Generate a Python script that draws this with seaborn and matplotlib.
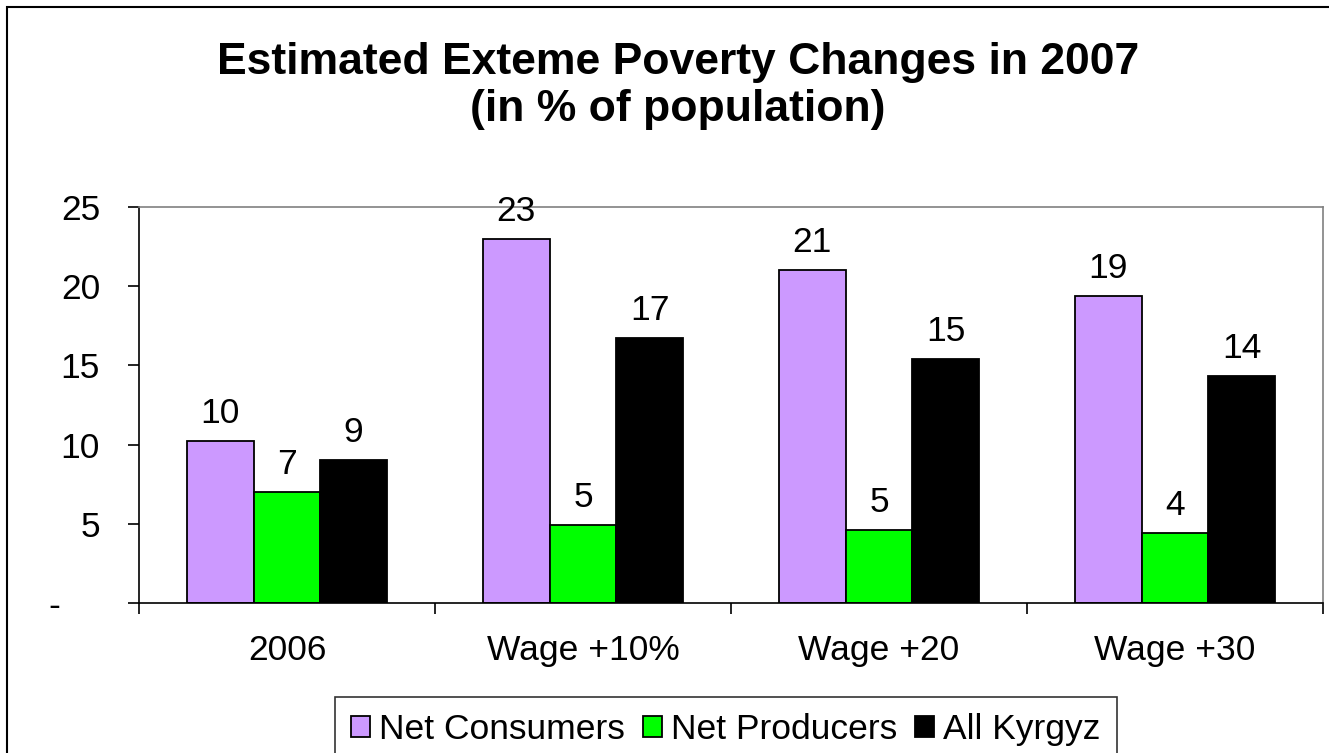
import seaborn as sns
import pandas as pd
import matplotlib.pyplot as plt
from matplotlib.patches import Rectangle
from matplotlib.transforms import ScaledTranslation

scenarios = ["2006", "Wage +10%", "Wage +20", "Wage +30"]
series = ["Net Consumers", "Net Producers", "All Kyrgyz"]
net_consumers = [10.2, 23.0, 21.0, 19.4]
net_producers = [7.0, 4.9, 4.6, 4.4]
all_kyrgyz = [9.0, 16.7, 15.4, 14.3]

rows = []
for name, vals in zip(series, [net_consumers, net_producers, all_kyrgyz]):
    for sc, v in zip(scenarios, vals):
        rows.append({"scenario": sc, "group": name, "value": v})
data = pd.DataFrame(rows)

sns.set_style("white")
plt.rcParams["font.family"] = ["Liberation Sans", "DejaVu Sans"]
plt.rcParams["text.color"] = "black"
plt.rcParams["xtick.color"] = "black"
plt.rcParams["ytick.color"] = "black"

palette = ["#CC99FF", "#00FF00", "#000000"]
FS = 25.5

fig = plt.figure(figsize=(13.29, 7.53), dpi=100)
ax = fig.add_axes([0.1046, 0.1992, 0.8909, 0.5259])

sns.barplot(
    data=data, x="scenario", y="value", hue="group",
    order=scenarios, hue_order=series, palette=palette,
    width=0.675, saturation=1, edgecolor="black", linewidth=1.3,
    ax=ax, legend=True,
)

for c in ax.containers:
    ax.bar_label(c, fmt="%.0f", padding=8, fontsize=FS, color="black")

ax.set_xlim(-0.5, 3.5)
ax.set_ylim(0, 25)
ax.set_yticks([0, 5, 10, 15, 20, 25])
ax.set_yticklabels(["-", "5", "10", "15", "20", "25"])
ax.set_xlabel("")
ax.set_ylabel("")

# ticks at category boundaries on x
ax.set_xticks([-0.5, 0.5, 1.5, 2.5, 3.5], minor=True)
ax.tick_params(axis="x", which="major", bottom=True, length=0, pad=22,
               labelsize=FS, labelcolor="black")
ax.tick_params(axis="x", which="minor", bottom=True, length=8, width=1.2,
               direction="out", color="black")
ax.tick_params(axis="y", which="major", left=True, length=8, width=1.2,
               direction="out", pad=20, labelsize=FS, color="black",
               labelcolor="black")

for s in ["left", "bottom"]:
    ax.spines[s].set_color("black")
    ax.spines[s].set_linewidth(1.2)
for s in ["top", "right"]:
    ax.spines[s].set_color("#808080")
    ax.spines[s].set_linewidth(1.2)

ax.get_legend().remove()
handles, labels = ax.get_legend_handles_labels()
leg = fig.legend(
    handles, labels, loc="upper center", bbox_to_anchor=(0.546, 0.0744),
    ncol=3, fontsize=25.5, frameon=True, fancybox=False, edgecolor="black",
    handlelength=0.55, handleheight=0.55, handletextpad=0.25, columnspacing=0.5,
    borderpad=0.45, borderaxespad=0,
)
leg.get_frame().set_linewidth(1.2)
for t in leg.get_texts():
    t.set_color("black")

fig.text(0.51, 1 - 86 / 753, "Estimated Exteme Poverty Changes in 2007\n(in % of population)",
         ha="center", va="center", fontsize=32, fontweight="bold", linespacing=1.2,
         color="black")

# outer chart frame (right and bottom edges run off the picture)
fig.patches.append(Rectangle((7 / 1329, -0.1), 1.2, 1 - 7 / 753 + 0.1,
                             transform=fig.transFigure, fill=False,
                             edgecolor="black", linewidth=1.5))

# shift the "-" zero label left like the original
zero_lbl = ax.yaxis.get_major_ticks()[0].label1
zero_lbl.set_transform(zero_lbl.get_transform() + ScaledTranslation(-0.4, 0, fig.dpi_scale_trans))

fig.savefig("out.png", dpi=100)
